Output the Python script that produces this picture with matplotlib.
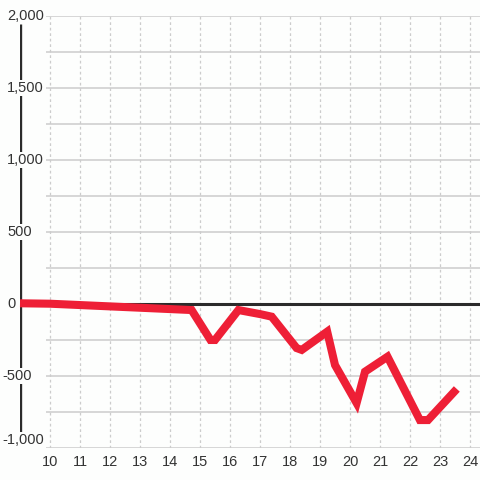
import numpy as np
import matplotlib.pyplot as plt

# series
x_vals = [9.0, 10.0, 14.72, 15.35, 15.5, 16.28, 17.0, 17.39, 18.22, 18.39,
          19.24, 19.5, 20.22, 20.5, 21.25, 22.33, 22.6, 23.56]
y_vals = [5, 2, -42, -250, -250, -42, -70, -88, -306, -319,
          -192, -424, -688, -470, -366, -806, -806, -590]

x_ticks = list(range(10, 25))
y_ticks = [-1000, -500, 0, 500, 1000, 1500, 2000]
y_minor = [-750, -250, 250, 750, 1250, 1750]

bg = '#fdfefd'
grid_col = '#cccccc'
text_col = '#333333'

fig = plt.figure(figsize=(4.8, 4.8), dpi=100, facecolor=bg)
ax = fig.add_axes([20 / 480, 32 / 480, 460 / 480, 432 / 480])
ax.set_facecolor(bg)
ax.set_xlim(9.0, 24.333)
ax.set_ylim(-1000, 2000)
for s in ax.spines.values():
    s.set_visible(False)

# grid
ax.hlines(y_ticks + y_minor, 9.867, 24.333, color=grid_col, lw=1.1, zorder=1)
ax.vlines(x_ticks, -1000, 2000, color=grid_col, lw=0.9,
          linestyles=(0, (2.2, 2.2)), zorder=1)

# axis lines
ax.axhline(0, color='#2b2b2b', lw=2.2, zorder=2)
ax.vlines(9.0, -930, 1944, color='#2b2b2b', lw=2.4, zorder=2)

ax.plot(x_vals, y_vals, color='#ee1f36', lw=5.8, solid_joinstyle='miter',
        solid_capstyle='butt', zorder=5, clip_on=False)

ax.set_xticks(x_ticks)
ax.set_xticklabels([str(t) for t in x_ticks], fontsize=10.5, color=text_col,
                   family='Liberation Sans')
ax.tick_params(axis='x', length=0, pad=5)
ax.set_yticks([])

# y labels sit left-aligned, the hyphen of negatives hangs out to the left
for v in y_ticks:
    yy = v if v > -1000 else -945
    lab = f'{abs(v):,}'
    if v < 0:
        lab = '-' + lab
        xx = -18 / 30
    else:
        xx = -13 / 30
    ax.text(9.0 + xx, yy, lab, ha='left', va='center', fontsize=10.5,
            color=text_col, family='Liberation Sans', zorder=4,
            bbox=dict(boxstyle='square,pad=0.1', fc=bg, ec='none'))

fig.savefig('out.png', dpi=100, facecolor=bg)
